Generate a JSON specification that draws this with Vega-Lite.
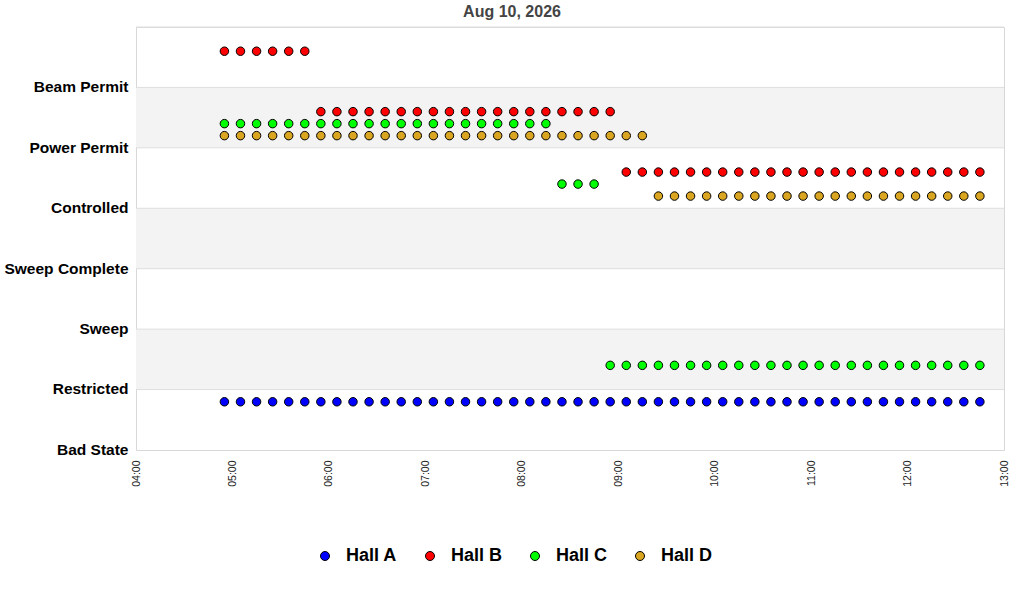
{
  "$schema": "https://vega.github.io/schema/vega-lite/v6.json",
  "autosize": "none",
  "width": 868,
  "height": 423,
  "padding": {"left": 136, "top": 27, "right": 20, "bottom": 150},
  "background": "white",
  "title": {
    "text": "Aug 10, 2026",
    "anchor": "middle",
    "dx": -58,
    "font": "Liberation Sans",
    "fontSize": 16,
    "fontWeight": "bold",
    "color": "#444444",
    "offset": 7
  },
  "datasets": {
    "shade": [
      {"s": "Power Permit"},
      {"s": "Sweep Complete"},
      {"s": "Restricted"}
    ],
    "levels": [
      {"s": "Beam Permit"},
      {"s": "Power Permit"},
      {"s": "Controlled"},
      {"s": "Sweep Complete"},
      {"s": "Sweep"},
      {"s": "Restricted"},
      {"s": "Bad State"}
    ],
    "status": [
      {"t": "2026-08-10T04:55", "h": "Hall A", "s": "Bad State"},
      {"t": "2026-08-10T05:05", "h": "Hall A", "s": "Bad State"},
      {"t": "2026-08-10T05:15", "h": "Hall A", "s": "Bad State"},
      {"t": "2026-08-10T05:25", "h": "Hall A", "s": "Bad State"},
      {"t": "2026-08-10T05:35", "h": "Hall A", "s": "Bad State"},
      {"t": "2026-08-10T05:45", "h": "Hall A", "s": "Bad State"},
      {"t": "2026-08-10T05:55", "h": "Hall A", "s": "Bad State"},
      {"t": "2026-08-10T06:05", "h": "Hall A", "s": "Bad State"},
      {"t": "2026-08-10T06:15", "h": "Hall A", "s": "Bad State"},
      {"t": "2026-08-10T06:25", "h": "Hall A", "s": "Bad State"},
      {"t": "2026-08-10T06:35", "h": "Hall A", "s": "Bad State"},
      {"t": "2026-08-10T06:45", "h": "Hall A", "s": "Bad State"},
      {"t": "2026-08-10T06:55", "h": "Hall A", "s": "Bad State"},
      {"t": "2026-08-10T07:05", "h": "Hall A", "s": "Bad State"},
      {"t": "2026-08-10T07:15", "h": "Hall A", "s": "Bad State"},
      {"t": "2026-08-10T07:25", "h": "Hall A", "s": "Bad State"},
      {"t": "2026-08-10T07:35", "h": "Hall A", "s": "Bad State"},
      {"t": "2026-08-10T07:45", "h": "Hall A", "s": "Bad State"},
      {"t": "2026-08-10T07:55", "h": "Hall A", "s": "Bad State"},
      {"t": "2026-08-10T08:05", "h": "Hall A", "s": "Bad State"},
      {"t": "2026-08-10T08:15", "h": "Hall A", "s": "Bad State"},
      {"t": "2026-08-10T08:25", "h": "Hall A", "s": "Bad State"},
      {"t": "2026-08-10T08:35", "h": "Hall A", "s": "Bad State"},
      {"t": "2026-08-10T08:45", "h": "Hall A", "s": "Bad State"},
      {"t": "2026-08-10T08:55", "h": "Hall A", "s": "Bad State"},
      {"t": "2026-08-10T09:05", "h": "Hall A", "s": "Bad State"},
      {"t": "2026-08-10T09:15", "h": "Hall A", "s": "Bad State"},
      {"t": "2026-08-10T09:25", "h": "Hall A", "s": "Bad State"},
      {"t": "2026-08-10T09:35", "h": "Hall A", "s": "Bad State"},
      {"t": "2026-08-10T09:45", "h": "Hall A", "s": "Bad State"},
      {"t": "2026-08-10T09:55", "h": "Hall A", "s": "Bad State"},
      {"t": "2026-08-10T10:05", "h": "Hall A", "s": "Bad State"},
      {"t": "2026-08-10T10:15", "h": "Hall A", "s": "Bad State"},
      {"t": "2026-08-10T10:25", "h": "Hall A", "s": "Bad State"},
      {"t": "2026-08-10T10:35", "h": "Hall A", "s": "Bad State"},
      {"t": "2026-08-10T10:45", "h": "Hall A", "s": "Bad State"},
      {"t": "2026-08-10T10:55", "h": "Hall A", "s": "Bad State"},
      {"t": "2026-08-10T11:05", "h": "Hall A", "s": "Bad State"},
      {"t": "2026-08-10T11:15", "h": "Hall A", "s": "Bad State"},
      {"t": "2026-08-10T11:25", "h": "Hall A", "s": "Bad State"},
      {"t": "2026-08-10T11:35", "h": "Hall A", "s": "Bad State"},
      {"t": "2026-08-10T11:45", "h": "Hall A", "s": "Bad State"},
      {"t": "2026-08-10T11:55", "h": "Hall A", "s": "Bad State"},
      {"t": "2026-08-10T12:05", "h": "Hall A", "s": "Bad State"},
      {"t": "2026-08-10T12:15", "h": "Hall A", "s": "Bad State"},
      {"t": "2026-08-10T12:25", "h": "Hall A", "s": "Bad State"},
      {"t": "2026-08-10T12:35", "h": "Hall A", "s": "Bad State"},
      {"t": "2026-08-10T12:45", "h": "Hall A", "s": "Bad State"},

      {"t": "2026-08-10T04:55", "h": "Hall B", "s": "Beam Permit"},
      {"t": "2026-08-10T05:05", "h": "Hall B", "s": "Beam Permit"},
      {"t": "2026-08-10T05:15", "h": "Hall B", "s": "Beam Permit"},
      {"t": "2026-08-10T05:25", "h": "Hall B", "s": "Beam Permit"},
      {"t": "2026-08-10T05:35", "h": "Hall B", "s": "Beam Permit"},
      {"t": "2026-08-10T05:45", "h": "Hall B", "s": "Beam Permit"},
      {"t": "2026-08-10T05:55", "h": "Hall B", "s": "Power Permit"},
      {"t": "2026-08-10T06:05", "h": "Hall B", "s": "Power Permit"},
      {"t": "2026-08-10T06:15", "h": "Hall B", "s": "Power Permit"},
      {"t": "2026-08-10T06:25", "h": "Hall B", "s": "Power Permit"},
      {"t": "2026-08-10T06:35", "h": "Hall B", "s": "Power Permit"},
      {"t": "2026-08-10T06:45", "h": "Hall B", "s": "Power Permit"},
      {"t": "2026-08-10T06:55", "h": "Hall B", "s": "Power Permit"},
      {"t": "2026-08-10T07:05", "h": "Hall B", "s": "Power Permit"},
      {"t": "2026-08-10T07:15", "h": "Hall B", "s": "Power Permit"},
      {"t": "2026-08-10T07:25", "h": "Hall B", "s": "Power Permit"},
      {"t": "2026-08-10T07:35", "h": "Hall B", "s": "Power Permit"},
      {"t": "2026-08-10T07:45", "h": "Hall B", "s": "Power Permit"},
      {"t": "2026-08-10T07:55", "h": "Hall B", "s": "Power Permit"},
      {"t": "2026-08-10T08:05", "h": "Hall B", "s": "Power Permit"},
      {"t": "2026-08-10T08:15", "h": "Hall B", "s": "Power Permit"},
      {"t": "2026-08-10T08:25", "h": "Hall B", "s": "Power Permit"},
      {"t": "2026-08-10T08:35", "h": "Hall B", "s": "Power Permit"},
      {"t": "2026-08-10T08:45", "h": "Hall B", "s": "Power Permit"},
      {"t": "2026-08-10T08:55", "h": "Hall B", "s": "Power Permit"},
      {"t": "2026-08-10T09:05", "h": "Hall B", "s": "Controlled"},
      {"t": "2026-08-10T09:15", "h": "Hall B", "s": "Controlled"},
      {"t": "2026-08-10T09:25", "h": "Hall B", "s": "Controlled"},
      {"t": "2026-08-10T09:35", "h": "Hall B", "s": "Controlled"},
      {"t": "2026-08-10T09:45", "h": "Hall B", "s": "Controlled"},
      {"t": "2026-08-10T09:55", "h": "Hall B", "s": "Controlled"},
      {"t": "2026-08-10T10:05", "h": "Hall B", "s": "Controlled"},
      {"t": "2026-08-10T10:15", "h": "Hall B", "s": "Controlled"},
      {"t": "2026-08-10T10:25", "h": "Hall B", "s": "Controlled"},
      {"t": "2026-08-10T10:35", "h": "Hall B", "s": "Controlled"},
      {"t": "2026-08-10T10:45", "h": "Hall B", "s": "Controlled"},
      {"t": "2026-08-10T10:55", "h": "Hall B", "s": "Controlled"},
      {"t": "2026-08-10T11:05", "h": "Hall B", "s": "Controlled"},
      {"t": "2026-08-10T11:15", "h": "Hall B", "s": "Controlled"},
      {"t": "2026-08-10T11:25", "h": "Hall B", "s": "Controlled"},
      {"t": "2026-08-10T11:35", "h": "Hall B", "s": "Controlled"},
      {"t": "2026-08-10T11:45", "h": "Hall B", "s": "Controlled"},
      {"t": "2026-08-10T11:55", "h": "Hall B", "s": "Controlled"},
      {"t": "2026-08-10T12:05", "h": "Hall B", "s": "Controlled"},
      {"t": "2026-08-10T12:15", "h": "Hall B", "s": "Controlled"},
      {"t": "2026-08-10T12:25", "h": "Hall B", "s": "Controlled"},
      {"t": "2026-08-10T12:35", "h": "Hall B", "s": "Controlled"},
      {"t": "2026-08-10T12:45", "h": "Hall B", "s": "Controlled"},

      {"t": "2026-08-10T04:55", "h": "Hall C", "s": "Power Permit"},
      {"t": "2026-08-10T05:05", "h": "Hall C", "s": "Power Permit"},
      {"t": "2026-08-10T05:15", "h": "Hall C", "s": "Power Permit"},
      {"t": "2026-08-10T05:25", "h": "Hall C", "s": "Power Permit"},
      {"t": "2026-08-10T05:35", "h": "Hall C", "s": "Power Permit"},
      {"t": "2026-08-10T05:45", "h": "Hall C", "s": "Power Permit"},
      {"t": "2026-08-10T05:55", "h": "Hall C", "s": "Power Permit"},
      {"t": "2026-08-10T06:05", "h": "Hall C", "s": "Power Permit"},
      {"t": "2026-08-10T06:15", "h": "Hall C", "s": "Power Permit"},
      {"t": "2026-08-10T06:25", "h": "Hall C", "s": "Power Permit"},
      {"t": "2026-08-10T06:35", "h": "Hall C", "s": "Power Permit"},
      {"t": "2026-08-10T06:45", "h": "Hall C", "s": "Power Permit"},
      {"t": "2026-08-10T06:55", "h": "Hall C", "s": "Power Permit"},
      {"t": "2026-08-10T07:05", "h": "Hall C", "s": "Power Permit"},
      {"t": "2026-08-10T07:15", "h": "Hall C", "s": "Power Permit"},
      {"t": "2026-08-10T07:25", "h": "Hall C", "s": "Power Permit"},
      {"t": "2026-08-10T07:35", "h": "Hall C", "s": "Power Permit"},
      {"t": "2026-08-10T07:45", "h": "Hall C", "s": "Power Permit"},
      {"t": "2026-08-10T07:55", "h": "Hall C", "s": "Power Permit"},
      {"t": "2026-08-10T08:05", "h": "Hall C", "s": "Power Permit"},
      {"t": "2026-08-10T08:15", "h": "Hall C", "s": "Power Permit"},
      {"t": "2026-08-10T08:25", "h": "Hall C", "s": "Controlled"},
      {"t": "2026-08-10T08:35", "h": "Hall C", "s": "Controlled"},
      {"t": "2026-08-10T08:45", "h": "Hall C", "s": "Controlled"},
      {"t": "2026-08-10T08:55", "h": "Hall C", "s": "Restricted"},
      {"t": "2026-08-10T09:05", "h": "Hall C", "s": "Restricted"},
      {"t": "2026-08-10T09:15", "h": "Hall C", "s": "Restricted"},
      {"t": "2026-08-10T09:25", "h": "Hall C", "s": "Restricted"},
      {"t": "2026-08-10T09:35", "h": "Hall C", "s": "Restricted"},
      {"t": "2026-08-10T09:45", "h": "Hall C", "s": "Restricted"},
      {"t": "2026-08-10T09:55", "h": "Hall C", "s": "Restricted"},
      {"t": "2026-08-10T10:05", "h": "Hall C", "s": "Restricted"},
      {"t": "2026-08-10T10:15", "h": "Hall C", "s": "Restricted"},
      {"t": "2026-08-10T10:25", "h": "Hall C", "s": "Restricted"},
      {"t": "2026-08-10T10:35", "h": "Hall C", "s": "Restricted"},
      {"t": "2026-08-10T10:45", "h": "Hall C", "s": "Restricted"},
      {"t": "2026-08-10T10:55", "h": "Hall C", "s": "Restricted"},
      {"t": "2026-08-10T11:05", "h": "Hall C", "s": "Restricted"},
      {"t": "2026-08-10T11:15", "h": "Hall C", "s": "Restricted"},
      {"t": "2026-08-10T11:25", "h": "Hall C", "s": "Restricted"},
      {"t": "2026-08-10T11:35", "h": "Hall C", "s": "Restricted"},
      {"t": "2026-08-10T11:45", "h": "Hall C", "s": "Restricted"},
      {"t": "2026-08-10T11:55", "h": "Hall C", "s": "Restricted"},
      {"t": "2026-08-10T12:05", "h": "Hall C", "s": "Restricted"},
      {"t": "2026-08-10T12:15", "h": "Hall C", "s": "Restricted"},
      {"t": "2026-08-10T12:25", "h": "Hall C", "s": "Restricted"},
      {"t": "2026-08-10T12:35", "h": "Hall C", "s": "Restricted"},
      {"t": "2026-08-10T12:45", "h": "Hall C", "s": "Restricted"},

      {"t": "2026-08-10T04:55", "h": "Hall D", "s": "Power Permit"},
      {"t": "2026-08-10T05:05", "h": "Hall D", "s": "Power Permit"},
      {"t": "2026-08-10T05:15", "h": "Hall D", "s": "Power Permit"},
      {"t": "2026-08-10T05:25", "h": "Hall D", "s": "Power Permit"},
      {"t": "2026-08-10T05:35", "h": "Hall D", "s": "Power Permit"},
      {"t": "2026-08-10T05:45", "h": "Hall D", "s": "Power Permit"},
      {"t": "2026-08-10T05:55", "h": "Hall D", "s": "Power Permit"},
      {"t": "2026-08-10T06:05", "h": "Hall D", "s": "Power Permit"},
      {"t": "2026-08-10T06:15", "h": "Hall D", "s": "Power Permit"},
      {"t": "2026-08-10T06:25", "h": "Hall D", "s": "Power Permit"},
      {"t": "2026-08-10T06:35", "h": "Hall D", "s": "Power Permit"},
      {"t": "2026-08-10T06:45", "h": "Hall D", "s": "Power Permit"},
      {"t": "2026-08-10T06:55", "h": "Hall D", "s": "Power Permit"},
      {"t": "2026-08-10T07:05", "h": "Hall D", "s": "Power Permit"},
      {"t": "2026-08-10T07:15", "h": "Hall D", "s": "Power Permit"},
      {"t": "2026-08-10T07:25", "h": "Hall D", "s": "Power Permit"},
      {"t": "2026-08-10T07:35", "h": "Hall D", "s": "Power Permit"},
      {"t": "2026-08-10T07:45", "h": "Hall D", "s": "Power Permit"},
      {"t": "2026-08-10T07:55", "h": "Hall D", "s": "Power Permit"},
      {"t": "2026-08-10T08:05", "h": "Hall D", "s": "Power Permit"},
      {"t": "2026-08-10T08:15", "h": "Hall D", "s": "Power Permit"},
      {"t": "2026-08-10T08:25", "h": "Hall D", "s": "Power Permit"},
      {"t": "2026-08-10T08:35", "h": "Hall D", "s": "Power Permit"},
      {"t": "2026-08-10T08:45", "h": "Hall D", "s": "Power Permit"},
      {"t": "2026-08-10T08:55", "h": "Hall D", "s": "Power Permit"},
      {"t": "2026-08-10T09:05", "h": "Hall D", "s": "Power Permit"},
      {"t": "2026-08-10T09:15", "h": "Hall D", "s": "Power Permit"},
      {"t": "2026-08-10T09:25", "h": "Hall D", "s": "Controlled"},
      {"t": "2026-08-10T09:35", "h": "Hall D", "s": "Controlled"},
      {"t": "2026-08-10T09:45", "h": "Hall D", "s": "Controlled"},
      {"t": "2026-08-10T09:55", "h": "Hall D", "s": "Controlled"},
      {"t": "2026-08-10T10:05", "h": "Hall D", "s": "Controlled"},
      {"t": "2026-08-10T10:15", "h": "Hall D", "s": "Controlled"},
      {"t": "2026-08-10T10:25", "h": "Hall D", "s": "Controlled"},
      {"t": "2026-08-10T10:35", "h": "Hall D", "s": "Controlled"},
      {"t": "2026-08-10T10:45", "h": "Hall D", "s": "Controlled"},
      {"t": "2026-08-10T10:55", "h": "Hall D", "s": "Controlled"},
      {"t": "2026-08-10T11:05", "h": "Hall D", "s": "Controlled"},
      {"t": "2026-08-10T11:15", "h": "Hall D", "s": "Controlled"},
      {"t": "2026-08-10T11:25", "h": "Hall D", "s": "Controlled"},
      {"t": "2026-08-10T11:35", "h": "Hall D", "s": "Controlled"},
      {"t": "2026-08-10T11:45", "h": "Hall D", "s": "Controlled"},
      {"t": "2026-08-10T11:55", "h": "Hall D", "s": "Controlled"},
      {"t": "2026-08-10T12:05", "h": "Hall D", "s": "Controlled"},
      {"t": "2026-08-10T12:15", "h": "Hall D", "s": "Controlled"},
      {"t": "2026-08-10T12:25", "h": "Hall D", "s": "Controlled"},
      {"t": "2026-08-10T12:35", "h": "Hall D", "s": "Controlled"},
      {"t": "2026-08-10T12:45", "h": "Hall D", "s": "Controlled"}
    ]
  },
  "layer": [
    {
      "data": {"name": "shade"},
      "mark": {"type": "rect", "color": "#f3f3f3"},
      "encoding": {
        "y": {
          "field": "s",
          "type": "ordinal",
          "scale": {
            "type": "band",
            "domain": ["Beam Permit", "Power Permit", "Controlled", "Sweep Complete", "Sweep", "Restricted", "Bad State"],
            "paddingInner": 0,
            "paddingOuter": 0
          },
          "axis": {
            "title": null,
            "labelOffset": 30,
            "labelFont": "Liberation Sans",
            "labelFontSize": 15.5,
            "labelFontWeight": "bold",
            "labelColor": "#000000",
            "labelPadding": 8,
            "ticks": false,
            "domain": false,
            "grid": false
          }
        }
      }
    },
    {
      "data": {"name": "levels"},
      "mark": {"type": "rule", "color": "#dedede", "strokeWidth": 1},
      "encoding": {
        "y": {"field": "s", "type": "ordinal", "bandPosition": 0}
      }
    },
    {
      "data": {"name": "status"},
      "encoding": {
        "x": {
          "field": "t",
          "type": "temporal",
          "scale": {
            "domain": [
              {"year": 2026, "month": 8, "date": 10, "hours": 4},
              {"year": 2026, "month": 8, "date": 10, "hours": 13}
            ]
          },
          "axis": {
            "title": null,
            "format": "%H:%M",
            "tickCount": 9,
            "labelAngle": -90,
            "labelFont": "Liberation Sans",
            "labelFontSize": 10.5,
            "labelColor": "#222222",
            "labelPadding": 10,
            "ticks": false,
            "domain": false,
            "grid": false
          }
        },
        "y": {"field": "s", "type": "ordinal"},
        "fill": {
          "field": "h",
          "type": "nominal",
          "scale": {"domain": ["Hall A", "Hall B", "Hall C", "Hall D"], "range": ["#0000ff", "#ff0000", "#00ff00", "#daa520"]},
          "legend": {
            "title": null,
            "orient": "none",
            "legendX": 180,
            "legendY": 520,
            "direction": "horizontal",
            "padding": 0,
            "symbolType": "circle",
            "symbolSize": 81,
            "symbolStrokeColor": "black",
            "symbolStrokeWidth": 1,
            "labelFont": "Liberation Sans",
            "labelFontSize": 18,
            "labelFontWeight": "bold",
            "labelColor": "#000000",
            "labelOffset": 12,
            "columnPadding": 23
          }
        }
      },
      "layer": [
        {"transform": [{"filter": "datum.h === 'Hall A'"}], "mark": {"type": "point", "yOffset": -18}},
        {"transform": [{"filter": "datum.h === 'Hall B'"}], "mark": {"type": "point", "yOffset": -6}},
        {"transform": [{"filter": "datum.h === 'Hall C'"}], "mark": {"type": "point", "yOffset": 6}},
        {"transform": [{"filter": "datum.h === 'Hall D'"}], "mark": {"type": "point", "yOffset": 18}}
      ]
    }
  ],
  "config": {
    "view": {"stroke": "#d8d8d8", "strokeWidth": 1},
    "point": {"shape": "circle", "filled": true, "size": 72, "stroke": "black", "strokeWidth": 1, "opacity": 1}
  }
}
